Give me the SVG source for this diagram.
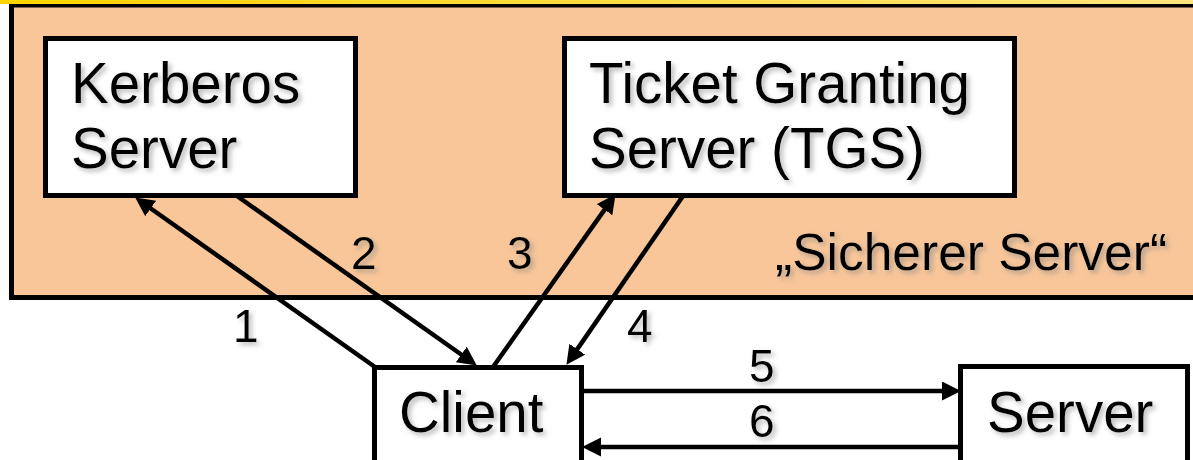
<svg xmlns="http://www.w3.org/2000/svg" width="1193" height="460" viewBox="0 0 1193 460">
  <defs>
    <linearGradient id="topbar" x1="0" y1="0" x2="1" y2="0">
      <stop offset="0" stop-color="#FFD400"/>
      <stop offset="1" stop-color="#FFE680"/>
    </linearGradient>
    <filter id="shadow" x="-10%" y="-20%" width="130%" height="150%">
      <feGaussianBlur in="SourceAlpha" stdDeviation="2.5" result="b"/>
      <feOffset in="b" dx="3" dy="3" result="o"/>
      <feFlood flood-color="#808080" flood-opacity="0.55"/>
      <feComposite in2="o" operator="in" result="s"/>
      <feMerge>
        <feMergeNode in="s"/>
        <feMergeNode in="SourceGraphic"/>
      </feMerge>
    </filter>
    <marker id="arrow" markerUnits="userSpaceOnUse" markerWidth="22" markerHeight="22" refX="12" refY="9.5" orient="auto">
      <path d="M0,0 L19,9.5 L0,19 z" fill="#000"/>
    </marker>
  </defs>
  <style>
    .box { fill: #fff; stroke: #000; stroke-width: 5; }
    .t { font-family: "Liberation Sans", Arial, sans-serif; fill: #000; filter: url(#shadow); }
    .big { font-size: 56.5px; }
    .num { font-size: 46px; }
    .conn line { stroke: #000; stroke-width: 4.5; marker-end: url(#arrow); }
  </style>
  <rect x="0" y="0" width="1193" height="460" fill="#fff"/>
  <g id="secure-zone">
    <rect x="11.5" y="5" width="1200" height="292.5" fill="#F8C699" stroke="#000" stroke-width="5"/>
    <rect x="0" y="0" width="1193" height="4" fill="url(#topbar)"/>
    <text class="t" x="775" y="270" style="font-size:51.5px">„Sicherer Server“</text>
  </g>
  <g id="kerberos">
    <rect class="box" x="45.5" y="38.5" width="310" height="157"/>
    <text class="t big" x="71" y="103">Kerberos</text>
    <text class="t big" x="71" y="168">Server</text>
  </g>
  <g id="tgs">
    <rect class="box" x="564.5" y="38.5" width="450" height="157"/>
    <text class="t big" x="589" y="103">Ticket Granting</text>
    <text class="t big" x="589" y="168">Server (TGS)</text>
  </g>
  <g id="client">
    <rect class="box" x="374.5" y="367.5" width="207" height="100"/>
    <text class="t big" x="399" y="432">Client</text>
  </g>
  <g id="server">
    <rect class="box" x="960.5" y="366.5" width="227" height="100"/>
    <text class="t big" x="987" y="432">Server</text>
  </g>
  <g id="connectors" class="conn">
    <line x1="375" y1="367" x2="140.9" y2="201.5"/>
    <line x1="237" y1="196" x2="471.1" y2="361.5"/>
    <line x1="493" y1="367" x2="611.5" y2="199.9"/>
    <line x1="683" y1="196" x2="570.4" y2="359.1"/>
    <line x1="581" y1="391" x2="954" y2="391"/>
    <line x1="959" y1="447" x2="589" y2="447"/>
  </g>
  <g id="labels">
    <text class="t num" x="233" y="342">1</text>
    <text class="t num" x="351" y="269">2</text>
    <text class="t num" x="507" y="269">3</text>
    <text class="t num" x="627" y="342">4</text>
    <text class="t num" x="749" y="382">5</text>
    <text class="t num" x="749" y="437">6</text>
  </g>
</svg>
